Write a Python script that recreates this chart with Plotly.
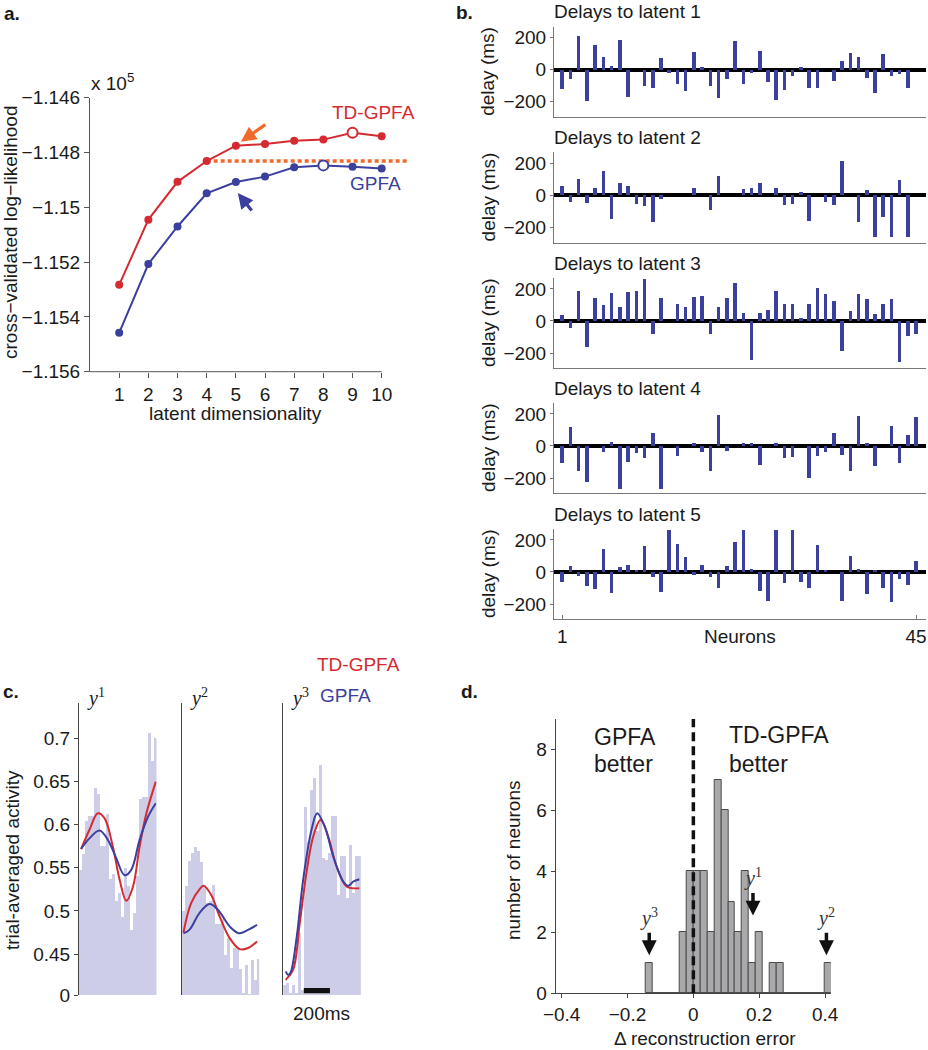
import plotly.graph_objects as go

W, H = 928, 1050
FONT = "Arial, Liberation Sans, Helvetica, sans-serif"
SERIF = "Liberation Serif, Times New Roman, DejaVu Serif, serif"
RED = "#d62a31"
BLUE = "#3b3f9e"
ORANGE = "#f26a2a"
AXC = "#555555"

# ---------------- data ----------------
# panel a
dims = [1, 2, 3, 4, 5, 6, 7, 8, 9, 10]
td_gpfa_ll = [-1.15283, -1.15045, -1.14907, -1.14831, -1.14775, -1.14769, -1.14757, -1.14753, -1.14728, -1.14741]
gpfa_ll = [-1.15458, -1.15207, -1.15070, -1.14949, -1.14908, -1.14888, -1.14854, -1.14847, -1.14852, -1.14858]
td_best_dim = 9
gpfa_best_dim = 8
chosen_dim = 5
a_yticks = [-1.156, -1.154, -1.152, -1.150, -1.148, -1.146]
a_yticklabels = ["\u22121.156", "\u22121.154", "\u22121.152", "\u22121.15", "\u22121.148", "\u22121.146"]

# panel b: delays (ms) of each neuron to each latent
delay_latent1 = [-121, -60, 213, -196, 157, 81, 26, 187, -172, 0, -102, -111, 77, -17, -89, -132, 111, 17, -102, -177,
                 -60, 179, -87, -21, 119, -77, -187, -128, -36, 21, -111, -111, 0, -70, 53, 104, 81, -51, -147, 100,
                 -40, -28, -111, 0]
delay_latent2 = [57, -45, 102, -51, 40, 147, -149, 72, 53, -55, -70, -168, -28, 0, 0, 0, 45, 0, -94, 115,
                 0, 0, 36, 45, 77, 0, 40, -62, -55, 19, -160, 0, -43, -66, 213, 0, -172, 32, -266, -138,
                 -266, 91, -266, 0]
delay_latent3 = [38, -44, 185, -160, 143, 99, 175, 84, 181, 185, 261, -84, 143, 0, 103, 88, 150, 154, -84, 84,
                 143, 238, 50, -246, 50, 69, 189, 103, 107, 17, 107, 208, 168, 124, -189, 61, 168, 139, 42, 107,
                 135, -259, -95, -80]
delay_latent4 = [-106, 117, -155, -223, 0, -40, 26, -270, -102, -47, -77, 81, -270, 0, -66, 0, 17, -40, -155, 194,
                 -32, 0, 17, 17, -117, 0, 17, -77, -70, 0, -200, -64, -40, 81, -60, -155, 189, 21, -125, 0,
                 123, -106, 68, 181]
delay_latent5 = [-64, 34, -23, -89, -106, 143, -130, 30, 45, 13, 162, -34, -128, 262, 172, 96, -19, 45, -32, -98,
                 34, 189, 262, 21, -117, -181, 262, -70, 262, -62, -102, 166, 10, 0, -179, 98, 17, -140, 10, -102,
                 -191, -43, -79, 68]
delays = [delay_latent1, delay_latent2, delay_latent3, delay_latent4, delay_latent5]
neuron_tick_labels = ["1", "45"]

# panel c: trial-averaged activity (PSTH bins) and model fits, time in ms
psth_bin_ms = 22.7
psth_y1 = [0.5475, 0.565, 0.6035, 0.61, 0.61, 0.642, 0.6355, 0.575, 0.575, 0.612, 0.537, 0.542, 0.511,
           0.52, 0.493, 0.549, 0.528, 0.477, 0.497, 0.54, 0.629, 0.632, 0.632, 0.706, 0.673, 0.70]
psth_y2 = [0.5, 0.528, 0.557, 0.567, 0.574, 0.569, 0.556, 0.53, 0.509, 0.511, 0.53, 0.484, 0.484,
           0.49, 0.449, 0.468, 0.434, 0.457, 0.455, 0.432, 0.405, 0.437, 0.403, 0.443, 0.42, 0.444]
psth_y3 = [0.414, 0.416, 0.405, 0.414, 0.405, 0.474, 0.408, 0.62, 0.58, 0.64, 0.654, 0.592, 0.669,
           0.561, 0.559, 0.567, 0.609, 0.609, 0.518, 0.563, 0.563, 0.515, 0.576, 0.52, 0.563, 0.563]
td_t_y1 = [13, 77, 141, 192, 256, 308, 359, 410, 461, 513, 585]
td_v_y1 = [0.5715, 0.594, 0.613, 0.6074, 0.5746, 0.536, 0.5116, 0.528, 0.5746, 0.613, 0.6498]
gp_t_y1 = [13, 77, 154, 218, 282, 346, 397, 461, 526, 585]
gp_v_y1 = [0.5718, 0.584, 0.593, 0.5823, 0.561, 0.5413, 0.5475, 0.5823, 0.6093, 0.6247]
td_t_y2 = [10, 69, 133, 164, 223, 287, 364, 441, 505, 574]
td_v_y2 = [0.475, 0.509, 0.525, 0.529, 0.5185, 0.4935, 0.4684, 0.4557, 0.457, 0.4645]
gp_t_y2 = [10, 56, 133, 210, 274, 364, 436, 505, 574]
gp_v_y2 = [0.474, 0.478, 0.4974, 0.5078, 0.5012, 0.482, 0.474, 0.478, 0.4838]
td_t_y3 = [15, 72, 123, 174, 226, 282, 341, 405, 482, 579]
td_v_y3 = [0.42, 0.4317, 0.4858, 0.5437, 0.5861, 0.6054, 0.5861, 0.5514, 0.5282, 0.5263]
gp_t_y3 = [15, 33, 51, 97, 149, 213, 256, 315, 379, 456, 495, 533, 579]
gp_v_y3 = [0.4298, 0.4259, 0.4279, 0.4665, 0.536, 0.5939, 0.6132, 0.5977, 0.563, 0.534, 0.529, 0.534, 0.5367]
c_yticks = [0.4025, 0.45, 0.5, 0.55, 0.6, 0.65, 0.7]
c_yticklabels = ["0", "0.45", "0.5", "0.55", "0.6", "0.65", "0.7"]
scalebar_ms = 200
scalebar_start_ms = 154

# panel d: histogram of delta reconstruction error
hist_left_edge = -0.1448
hist_bin_width = 0.02089
hist_counts = [1, 0, 0, 0, 0, 2, 4, 4, 4, 2, 7, 6, 3, 2, 4, 1, 2, 0, 1, 1, 0, 0, 0, 0, 0, 0, 1]
example_delta = {"3": -0.134, "1": 0.181, "2": 0.404}
example_arrow_y = {"3": 1.25, "1": 2.55, "2": 1.25}

# ---------------- helpers ----------------
def fx(p):
    return p / W


def fy(p):
    return 1 - p / H


fig = go.Figure()
annotations = []
shapes = []
layout = dict(width=W, height=H, margin=dict(l=0, r=0, t=0, b=0, pad=0, autoexpand=False),
              paper_bgcolor="white", plot_bgcolor="white", showlegend=False, bargap=0,
              font=dict(family=FONT, size=19, color="#1a1a1a"))


def text(x, y, s, size=19, color="#1a1a1a", xanchor="center", yanchor="middle", angle=0, family=FONT, bold=False):
    if bold:
        s = "<b>" + s + "</b>"
    annotations.append(dict(x=fx(x), y=fy(y), xref="paper", yref="paper", text=s, showarrow=False,
                            xanchor=xanchor, yanchor=yanchor, textangle=angle, borderpad=0,
                            font=dict(size=size, color=color, family=family)))


# ---------------- panel a ----------------
a_xscale = 29.17  # px per dimension unit
a_xmax = 10.95
layout["xaxis"] = dict(domain=[fx(90), fx(90 + a_xmax * a_xscale)], range=[0, a_xmax], showline=False,
                       showgrid=False, zeroline=False, ticks="outside", ticklen=5, tickcolor=AXC,
                       tickvals=dims, ticktext=[str(d) for d in dims], anchor="y", automargin=False)
layout["yaxis"] = dict(domain=[fy(371.7), fy(97.7)], range=[-1.156, -1.146], showline=True, linecolor=AXC,
                       showgrid=False, zeroline=False, ticks="outside", ticklen=5, tickcolor=AXC,
                       tickvals=a_yticks, ticktext=a_yticklabels, anchor="x", automargin=False)
shapes.append(dict(type="line", xref="x", yref="y domain", x0=0, x1=dims[-1], y0=0, y1=0,
                   line=dict(color=AXC, width=1)))
# dashed reference at TD-GPFA dim 4 level
ref_y = td_gpfa_ll[3]
fig.add_trace(go.Scatter(x=[dims[3], a_xmax - 0.05], y=[ref_y, ref_y], mode="lines",
                         line=dict(color=ORANGE, width=3.5, dash="4px,3px"), xaxis="x", yaxis="y"))
for ys, col, best in [(td_gpfa_ll, RED, td_best_dim), (gpfa_ll, BLUE, gpfa_best_dim)]:
    fig.add_trace(go.Scatter(x=dims, y=ys, mode="lines", line=dict(color=col, width=2), xaxis="x", yaxis="y"))
    fx_ = [d for d in dims if d != best]
    fy_ = [v for d, v in zip(dims, ys) if d != best]
    fig.add_trace(go.Scatter(x=fx_, y=fy_, mode="markers", marker=dict(color=col, size=8),
                             xaxis="x", yaxis="y"))
    fig.add_trace(go.Scatter(x=[best], y=[ys[best - 1]], mode="markers",
                             marker=dict(color="white", size=10, line=dict(color=col, width=2)),
                             xaxis="x", yaxis="y"))
annotations.append(dict(x=chosen_dim, y=td_gpfa_ll[chosen_dim - 1], xref="x", yref="y", xshift=5, yshift=4,
                        ax=26, ay=-18, showarrow=True, arrowhead=2, arrowsize=0.95, arrowwidth=3.2,
                        arrowcolor=ORANGE, text=""))
annotations.append(dict(x=chosen_dim, y=gpfa_ll[chosen_dim - 1], xref="x", yref="y", xshift=2, yshift=-11,
                        ax=15, ay=19, showarrow=True, arrowhead=2, arrowsize=0.95, arrowwidth=3.2,
                        arrowcolor=BLUE, text=""))
text(373, 112, "TD-GPFA", color=RED)
text(375, 184, "GPFA", color=BLUE)
text(90, 82, "x 10<sup>5</sup>", xanchor="left")
text(3, 13, "a.", xanchor="left", bold=True)
text(10, 232, "cross\u2212validated log\u2212likelihood", angle=-90)
text(235, 413, "latent dimensionality")

# ---------------- panel b ----------------
b_tops = [26.8, 152.4, 278.1, 403.1, 529.1]
b_h = 90.1
neurons = list(range(1, len(delay_latent1) + 1))
for i, (dl, top) in enumerate(zip(delays, b_tops)):
    k = i + 2
    xa, ya = "x%d" % k, "y%d" % k
    last = i == len(delays) - 1
    layout["xaxis%d" % k] = dict(domain=[fx(554), fx(926)], range=[0, 45.2], showline=True, linecolor="#777",
                                 showgrid=False, zeroline=False, ticks="inside" if last else "",
                                 ticklen=4, tickcolor="#777",
                                 tickvals=[neurons[0], neurons[-1]] if last else [],
                                 ticktext=neuron_tick_labels if last else [],
                                 showticklabels=last, anchor=ya, automargin=False)
    layout["yaxis%d" % k] = dict(domain=[fy(top + b_h), fy(top)], range=[-295, 268], showline=True,
                                 linecolor="#777", showgrid=False, zeroline=True, zerolinecolor="black",
                                 zerolinewidth=4, ticks="outside", ticklen=3, tickcolor="#777",
                                 tickvals=[-200, 0, 200], ticktext=["\u2212200", "0", "200"], anchor=xa,
                                 automargin=False)
    fig.add_trace(go.Bar(x=neurons, y=dl, width=0.43, marker=dict(color=BLUE, line=dict(width=0)),
                         xaxis=xa, yaxis=ya))
    text(553, top - 15, "Delays to latent %d" % (i + 1), xanchor="left")
    text(488, top + 45, "delay (ms)", angle=-90)
text(455, 12, "b.", xanchor="left", bold=True)
text(740, 636, "Neurons")

# ---------------- panel c ----------------
c_left = [79, 181.7, 283.3]
c_w = 77.5
psths = [psth_y1, psth_y2, psth_y3]
fits = [((td_t_y1, td_v_y1), (gp_t_y1, gp_v_y1)),
        ((td_t_y2, td_v_y2), (gp_t_y2, gp_v_y2)),
        ((td_t_y3, td_v_y3), (gp_t_y3, gp_v_y3))]
c_span = psth_bin_ms * len(psth_y1)
for j in range(3):
    k = 7 + j
    xa, ya = "x%d" % k, "y%d" % k
    layout["xaxis%d" % k] = dict(domain=[fx(c_left[j]), fx(c_left[j] + c_w)], range=[-3, c_span],
                                 showline=False, showgrid=False, zeroline=False, showticklabels=False,
                                 ticks="", anchor=ya, automargin=False)
    layout["yaxis%d" % k] = dict(domain=[fy(995), fy(703.3)], range=[0.4025, 0.7405], showline=True,
                                 linecolor="#444", showgrid=False, zeroline=False,
                                 ticks="outside" if j == 0 else "", ticklen=4, tickcolor="#444",
                                 tickvals=c_yticks if j == 0 else [], ticktext=c_yticklabels if j == 0 else [],
                                 showticklabels=(j == 0), anchor=xa, automargin=False)
    centers = [(b + 0.5) * psth_bin_ms for b in range(len(psths[j]))]
    fig.add_trace(go.Bar(x=centers, y=psths[j], width=psth_bin_ms,
                         marker=dict(color="#cdcde7", line=dict(width=0)),
                         xaxis=xa, yaxis=ya))
    (tt, tv), (gt, gv) = fits[j]
    fig.add_trace(go.Scatter(x=tt, y=tv, mode="lines", line=dict(color=RED, width=2, shape="spline"),
                             xaxis=xa, yaxis=ya))
    fig.add_trace(go.Scatter(x=gt, y=gv, mode="lines", line=dict(color=BLUE, width=2, shape="spline"),
                             xaxis=xa, yaxis=ya))
    text(c_left[j] + 7, 697, "<i>y</i><sup>%d</sup>" % (j + 1), family=SERIF, xanchor="left", size=20)
shapes.append(dict(type="rect", xref="x9", yref="y9", x0=scalebar_start_ms, x1=scalebar_start_ms + scalebar_ms,
                   y0=0.4045, y1=0.4105, fillcolor="#111", line=dict(width=0)))
text(321, 1013, "200ms")
text(358, 664, "TD-GPFA", color=RED)
text(345, 695, "GPFA", color=BLUE)
text(2, 692, "c.", xanchor="left", bold=True)
text(12, 860, "trial-averaged activity", angle=-90)

# ---------------- panel d ----------------
d_centers = [hist_left_edge + hist_bin_width * (i + 0.5) for i in range(len(hist_counts))]
layout["xaxis10"] = dict(domain=[fx(555.7), fx(830.7)], range=[-0.418, 0.417], showline=True, linecolor="#444",
                         showgrid=False, zeroline=False, ticks="outside", ticklen=4, tickcolor="#444",
                         tickvals=[-0.4, -0.2, 0, 0.2, 0.4],
                         ticktext=["\u22120.4", "\u22120.2", "0", "0.2", "0.4"], anchor="y10", automargin=False)
layout["yaxis10"] = dict(domain=[fy(993.3), fy(719)], range=[0, 9], showline=True, linecolor="#444",
                         showgrid=False, zeroline=False, ticks="outside", ticklen=4, tickcolor="#444",
                         tickvals=[0, 2, 4, 6, 8], anchor="x10", automargin=False)
fig.add_trace(go.Bar(x=d_centers, y=hist_counts, width=hist_bin_width,
                     marker=dict(color="#a9a9ab", line=dict(color="#4a4a4a", width=1)),
                     xaxis="x10", yaxis="y10"))
shapes.append(dict(type="line", xref="x10", yref="y10", x0=0, x1=0, y0=0, y1=9,
                   line=dict(color="#111", width=3.5, dash="9px,5px")))
for key in ["3", "1", "2"]:
    annotations.append(dict(x=example_delta[key], y=example_arrow_y[key], xref="x10", yref="y10",
                            ax=0, ay=-24, showarrow=True, arrowhead=2, arrowsize=0.85, arrowwidth=3.5,
                            arrowcolor="#111", text=""))
    annotations.append(dict(x=example_delta[key], y=example_arrow_y[key], xref="x10", yref="y10",
                            yshift=38, showarrow=False, text="<i>y</i><sup>%s</sup>" % key,
                            font=dict(family=SERIF, size=20, color="#333")))
text(593, 737, "GPFA", size=23, xanchor="left")
text(593, 764, "better", size=23, xanchor="left")
text(728, 735, "TD-GPFA", size=23, xanchor="left")
text(728, 764, "better", size=23, xanchor="left")
text(460, 692, "d.", xanchor="left", bold=True)
text(513, 860, "number of neurons", angle=-90)
text(705, 1038, "\u0394 reconstruction error")

layout["annotations"] = annotations
layout["shapes"] = shapes
fig.update_layout(**layout)
fig.write_html("out.html", config={"displayModeBar": False},
               post_script="document.body.style.margin='0';document.documentElement.style.overflow='hidden';"
                           "document.body.style.overflow='hidden';")
